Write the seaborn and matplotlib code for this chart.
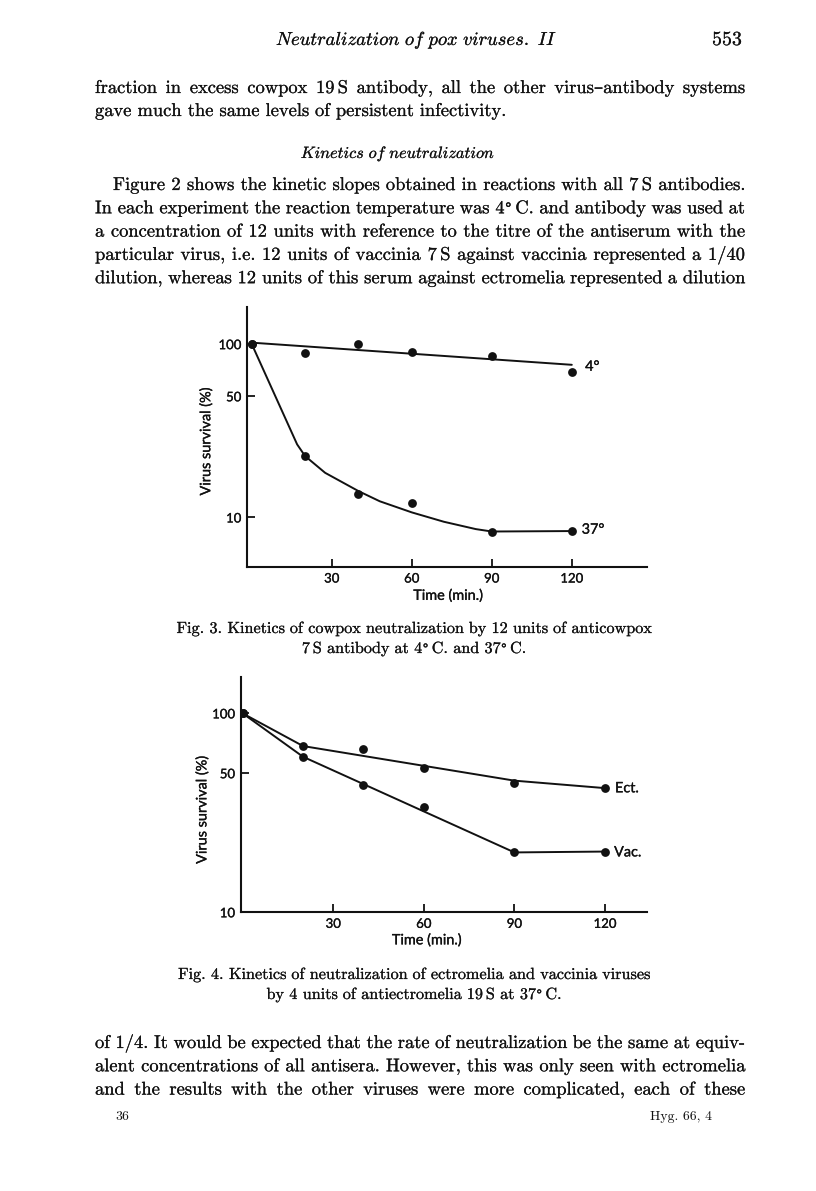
import matplotlib
matplotlib.use('Agg')
import matplotlib.pyplot as plt
import matplotlib.patheffects as pe
from matplotlib.ticker import NullLocator, FixedLocator, FixedFormatter
import pandas as pd
import seaborn as sns

sns.set_style('ticks')
plt.rcParams['font.family'] = ['Lato', 'DejaVu Sans']
plt.rcParams['mathtext.fontset'] = 'cm'

SERIF = ['cmr10', 'DejaVu Serif']
INK = '#111111'
W, H = 816, 1191

# ---- data ----
time_min = [0, 20, 40, 60, 90, 120]

# Fig. 3, cowpox, points
cowpox_4c = [100, 89, 100, 89.5, 86, 69]
cowpox_37c = [100, 22.6, 13.6, 12.2, 8.3, 8.4]
# Fig. 3, drawn curves
fit_4c_time = [0, 120]
fit_4c = [102, 76]
fit_37c_time = [0, 17, 20, 27.5, 40, 48, 60, 72, 84, 90, 120]
fit_37c = [100, 26.4, 22.6, 18.1, 14.2, 12.4, 10.7, 9.45, 8.57, 8.3, 8.35]

# Fig. 4, ectromelia / vaccinia, points
ect = [100, 68.5, 65.9, 53.1, 44.8, 42.1]
vac = [100, 60.5, 43.5, 33.7, 20.0, 20.2]
# Fig. 4, drawn lines
ect_fit_time = [0, 20, 90, 120]
ect_fit = [100, 68.5, 45.9, 42.1]
vac_fit_time = [0, 20, 90, 120]
vac_fit = [100, 60.5, 20.0, 20.2]

x_ticks = [30, 60, 90, 120]
y_ticks = [10, 50, 100]
y_ticklabels = ['10', '50', '100']

# ---- page text ----
header = r'$\mathit{Neutralization\ of\ pox\ viruses.\ II}$'
page_no = '553'
para_top = [
    'fraction in excess cowpox 19~S antibody, all the other virus–antibody systems',
    'gave much the same levels of persistent infectivity.',
]
subhead = r'$\mathit{Kinetics\ of\ neutralization}$'
para_mid = [
    'Figure 2 shows the kinetic slopes obtained in reactions with all 7~S antibodies.',
    'In each experiment the reaction temperature was 4°~C. and antibody was used at',
    'a concentration of 12 units with reference to the titre of the antiserum with the',
    'particular virus, i.e. 12 units of vaccinia 7~S against vaccinia represented a 1/40',
    'dilution, whereas 12 units of this serum against ectromelia represented a dilution',
]
cap3 = ['Fig. 3. Kinetics of cowpox neutralization by 12 units of anticowpox',
        '7~S antibody at 4°~C. and 37°~C.']
cap4 = ['Fig. 4. Kinetics of neutralization of ectromelia and vaccinia viruses',
        'by 4 units of antiectromelia 19~S at 37°~C.']
para_bot = [
    'of 1/4. It would be expected that the rate of neutralization be the same at equiv-',
    'alent concentrations of all antisera. However, this was only seen with ectromelia',
    'and the results with the other viruses were more complicated, each of these',
]

fig = plt.figure(figsize=(W / 100, H / 100), dpi=100)
fig.patch.set_facecolor('white')
renderer = fig.canvas.get_renderer()
serif_ink = [pe.withStroke(linewidth=0.15, foreground=INK)]
sans_ink = [pe.withStroke(linewidth=0.2, foreground=INK)]


def put(x, y, s, **kw):
    kw.setdefault('color', INK)
    kw.setdefault('path_effects', serif_ink)
    return fig.text(x / W, 1 - y / H, s, **kw)


def segments(s):
    # cmr10 has no degree sign, so that one glyph goes to DejaVu Serif (a bit smaller)
    out = []
    for i, chunk in enumerate(s.split('°')):
        if i > 0:
            out.append(('°', ['DejaVu Serif'], 0.8))
        if chunk:
            out.append((chunk, SERIF, 1.0))
    return out


def width_of(s, size, family=None):
    w = 0
    for text, fam, k in ([(s, family, 1.0)] if family else segments(s)):
        t = fig.text(0, 0, text, fontsize=size * k, family=fam)
        w += t.get_window_extent(renderer).width
        t.remove()
    return w


def em(size):
    return size * 100 / 72


def draw_word(p, x, y, size):
    for text, fam, k in segments(p):
        put(x, y, text, fontsize=size * k, family=fam, va='baseline')
        x += width_of(text, size * k, fam)


def token_width(tok, size):
    parts = tok.split('~')
    return sum(width_of(p, size) for p in parts) + (len(parts) - 1) * 0.18 * em(size)


def draw_token(tok, x, y, size):
    for p in tok.split('~'):
        draw_word(p, x, y, size)
        x += width_of(p, size) + 0.18 * em(size)


def natural_width(line, size):
    toks = line.split(' ')
    return sum(token_width(t, size) for t in toks) + (len(toks) - 1) * 0.333 * em(size)


def draw_line(line, x0, y, size, x1=None):
    toks = line.split(' ')
    widths = [token_width(t, size) for t in toks]
    gap = 0.333 * em(size)
    if x1 is not None and len(toks) > 1:
        gap = (x1 - x0 - sum(widths)) / (len(toks) - 1)
    x = x0
    for t, w in zip(toks, widths):
        draw_token(t, x, y, size)
        x += w + gap


body = 10 * 632 / natural_width(para_mid[0], 10)
capsz = 10 * 477 / natural_width(cap3[0], 10)
hsz = 10 * 282 / width_of(header, 10, 'DejaVu Sans')
ssz = 10 * 195 / width_of(subhead, 10, 'DejaVu Sans')

put(276, 45, header, fontsize=hsz, va='baseline')
put(742, 45, page_no, fontsize=body * 1.08, family=SERIF, ha='right', va='baseline')
draw_line(para_top[0], 95, 93, body, 745)
draw_line(para_top[1], 95, 116, body)
put(398, 158, subhead, fontsize=ssz, ha='center', va='baseline')
draw_line(para_mid[0], 113, 190, body, 745)
for i, line in enumerate(para_mid[1:]):
    draw_line(line, 95, 213.3 + 23.3 * i, body, 745)

for cap, y0 in [(cap3, 633), (cap4, 979)]:
    for j, line in enumerate(cap):
        wline = natural_width(line, capsz)
        draw_line(line, 414 - wline / 2, y0 + 20 * j, capsz)

for i, line in enumerate(para_bot):
    draw_line(line, 95, 1048 + 23.3 * i, body, 745)
put(115, 1120, '36', fontsize=capsz * 0.85, family=SERIF, va='baseline', path_effects=[])
put(712, 1120, 'Hyg. 66, 4', fontsize=capsz * 0.85, family=SERIF, ha='right', va='baseline',
    path_effects=[])


# ---- charts ----
def style(ax, xlim, ylim):
    ax.set_yscale('log')
    ax.set_xlim(xlim)
    ax.set_ylim(ylim)
    ax.xaxis.set_major_locator(FixedLocator(x_ticks))
    ax.yaxis.set_major_locator(FixedLocator(y_ticks))
    ax.yaxis.set_major_formatter(FixedFormatter(y_ticklabels))
    ax.yaxis.set_minor_locator(NullLocator())
    ax.xaxis.set_minor_locator(NullLocator())
    sns.despine(ax=ax)
    for s in ['left', 'bottom']:
        ax.spines[s].set_linewidth(1.5)
        ax.spines[s].set_color(INK)
    ax.tick_params(direction='in', length=6, width=1.3, labelsize=9.5, pad=4, color=INK,
                   labelcolor=INK)
    for lab in ax.get_xticklabels() + ax.get_yticklabels():
        lab.set_path_effects(sans_ink)
    ax.set_facecolor('none')
    ax.set_xlabel('Time (min.)', fontsize=10.4, color=INK, path_effects=sans_ink)
    ax.set_ylabel('Virus survival (%)', fontsize=10.4, color=INK, path_effects=sans_ink)
    ax.xaxis.label.set_va('center')
    ax.yaxis.label.set_va('center')


ax3 = fig.add_axes([247 / W, 1 - 567 / H, 400 / W, 260 / H])
df3 = pd.DataFrame({'time': time_min * 2, 'survival': cowpox_4c + cowpox_37c})
sns.lineplot(x=fit_4c_time, y=fit_4c, color=INK, lw=1.4, ax=ax3)
sns.lineplot(x=fit_37c_time, y=fit_37c, color=INK, lw=1.4, ax=ax3, sort=False, estimator=None)
sns.scatterplot(data=df3, x='time', y='survival', color=INK, s=40, linewidth=0, ax=ax3, zorder=3)
style(ax3, (-1.8, 148.2), (5.18, 163.8))
ax3.xaxis.set_label_coords(0.5025, -0.11)
ax3.yaxis.set_label_coords(-0.1025, 0.482)
ax3.text(125, 74, '4°', fontsize=10.4, va='center', color=INK, path_effects=sans_ink)
ax3.text(123.7, 8.5, '37°', fontsize=10.4, va='center', color=INK, path_effects=sans_ink)

ax4 = fig.add_axes([240.7 / W, 1 - 912.3 / H, 406 / W, 235.6 / H])
df4 = pd.DataFrame({'time': time_min * 2, 'survival': ect + vac})
sns.lineplot(x=ect_fit_time, y=ect_fit, color=INK, lw=1.4, ax=ax4, sort=False, estimator=None)
sns.lineplot(x=vac_fit_time, y=vac_fit, color=INK, lw=1.4, ax=ax4, sort=False, estimator=None)
sns.scatterplot(data=df4, x='time', y='survival', color=INK, s=40, linewidth=0, ax=ax4, zorder=3)
style(ax4, (-0.66, 133.8), (10, 152.9))
ax4.xaxis.set_label_coords(0.458, -0.118)
ax4.yaxis.set_label_coords(-0.095, 0.434)
ax4.text(123.3, 42, 'Ect.', fontsize=10.4, va='center', color=INK, path_effects=sans_ink)
ax4.text(123, 20, 'Vac.', fontsize=10.4, va='center', color=INK, path_effects=sans_ink)

fig.savefig('out.png', dpi=100, facecolor='white')
